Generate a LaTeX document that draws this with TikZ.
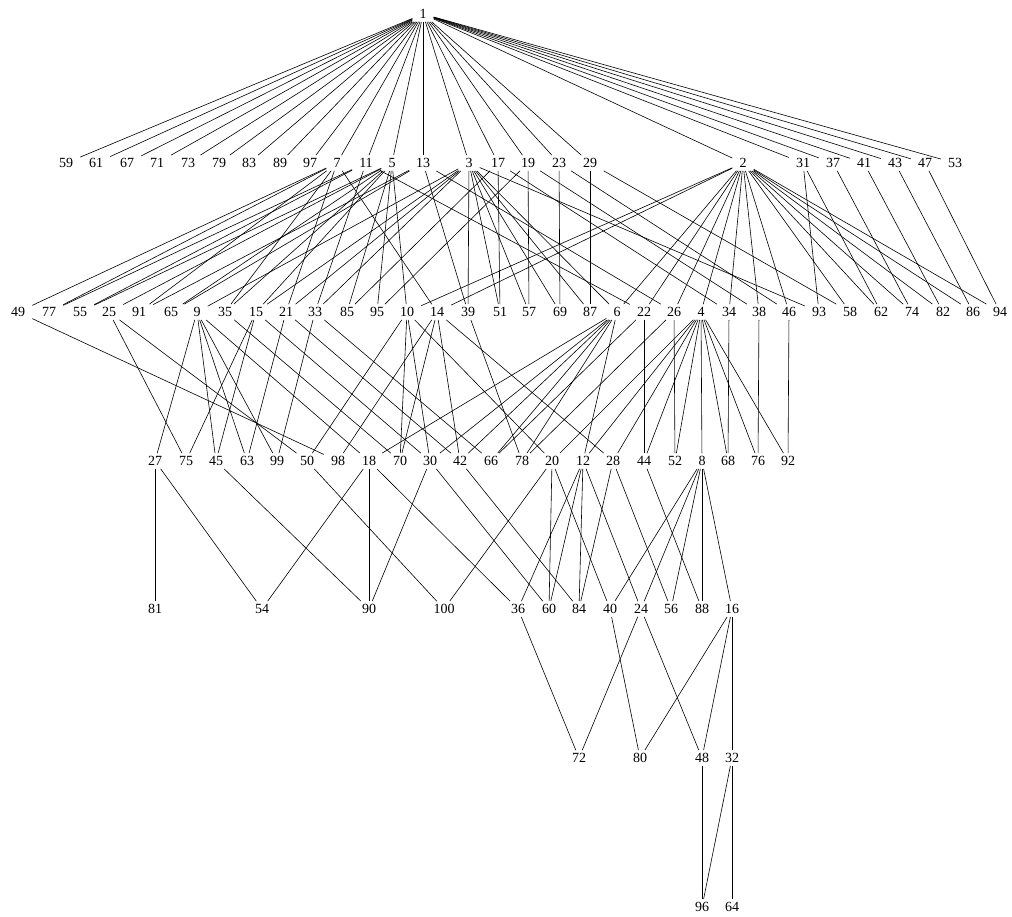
\documentclass[tikz,border=0pt]{standalone}
\usepackage{fontspec}
\setmainfont{Liberation Serif}
\usepackage{tikz}

\begin{document}
\begin{tikzpicture}[
  x=1pt, y=-1pt,
  num/.style={inner xsep=7pt, inner ysep=3pt, font=\fontsize{14}{16}\selectfont},
  link/.style={line width=0.6pt},
]
\useasboundingbox (0,0) rectangle (1012,916);

% rank 0 and the primes
\node[num] (n1) at (423,14) {1};
\foreach \v/\x in {59/66, 61/96, 67/127, 71/157, 73/188, 79/219, 83/249, 89/280,
  97/310, 7/337, 11/366, 5/392, 13/423, 3/469, 17/498, 19/528, 23/559, 29/590,
  2/743, 31/803, 37/833, 41/864, 43/895, 47/925, 53/955}
  \node[num] (n\v) at (\x,163) {\v};

% two prime factors
\foreach \v/\x in {49/18, 77/49, 55/80, 25/109, 91/139, 65/171, 9/197, 35/225,
  15/256, 21/286, 33/315, 85/347, 95/377, 10/407, 14/437, 39/468, 51/500, 57/529,
  69/560, 87/590, 6/617, 22/644, 26/674, 4/701, 34/729, 38/759, 46/789, 93/819,
  58/850, 62/881, 74/912, 82/943, 86/973, 94/1000}
  \node[num] (n\v) at (\x,312) {\v};

% three prime factors
\foreach \v/\x in {27/155, 75/186, 45/216, 63/247, 99/277, 50/307, 98/338, 18/369,
  70/400, 30/430, 42/460, 66/491, 78/522, 20/552, 12/583, 28/613, 44/644, 52/675,
  8/702, 68/728, 76/758, 92/788}
  \node[num] (n\v) at (\x,461) {\v};

% four and more
\foreach \v/\x in {81/155, 54/262, 90/369, 100/444, 36/518, 60/549, 84/579,
  40/610, 24/641, 56/671, 88/702, 16/732}
  \node[num] (n\v) at (\x,609) {\v};
\foreach \v/\x in {72/579, 80/640, 48/702, 32/732}
  \node[num] (n\v) at (\x,758) {\v};
\foreach \v/\x in {96/702, 64/732}
  \node[num] (n\v) at (\x,907) {\v};

% covering relations a | b
\foreach \a/\b in {1/2, 1/3, 1/5, 1/7, 1/11, 1/13, 1/17, 1/19, 1/23, 1/29, 1/31,
  1/37, 1/41, 1/43, 1/47, 1/53, 1/59, 1/61, 1/67, 1/71, 1/73, 1/79, 1/83, 1/89, 1/97,
  2/4, 2/6, 2/10, 2/14, 2/22, 2/26, 2/34, 2/38, 2/46, 2/58, 2/62, 2/74, 2/82, 2/86, 2/94,
  3/6, 3/9, 3/15, 3/21, 3/33, 3/39, 3/51, 3/57, 3/69, 3/87, 3/93,
  5/10, 5/15, 5/25, 5/35, 5/55, 5/65, 5/85, 5/95,
  7/14, 7/21, 7/35, 7/49, 7/77, 7/91,
  11/22, 11/33, 11/55, 11/77, 13/26, 13/39, 13/65, 13/91,
  17/34, 17/51, 17/85, 19/38, 19/57, 19/95, 23/46, 23/69, 29/58, 29/87,
  31/62, 31/93, 37/74, 41/82, 43/86, 47/94,
  4/8, 4/12, 4/20, 4/28, 4/44, 4/52, 4/68, 4/76, 4/92,
  6/12, 6/18, 6/30, 6/42, 6/66, 6/78,
  9/18, 9/27, 9/45, 9/63, 9/99,
  10/20, 10/30, 10/50, 10/70, 14/28, 14/42, 14/70, 14/98,
  15/30, 15/45, 15/75, 21/42, 21/63, 22/44, 22/66, 25/50, 25/75,
  26/52, 26/78, 33/66, 33/99, 34/68, 35/70, 38/76, 39/78, 46/92, 49/98,
  8/16, 8/24, 8/40, 8/56, 8/88, 12/24, 12/36, 12/60, 12/84,
  18/36, 18/54, 18/90, 20/40, 20/60, 20/100, 27/54, 27/81, 28/56, 28/84,
  30/60, 30/90, 42/84, 44/88, 45/90, 50/100,
  16/32, 16/48, 16/80, 24/48, 24/72, 36/72, 40/80,
  32/64, 32/96, 48/96}
  \draw[link] (n\a) -- (n\b);
\end{tikzpicture}
\end{document}
